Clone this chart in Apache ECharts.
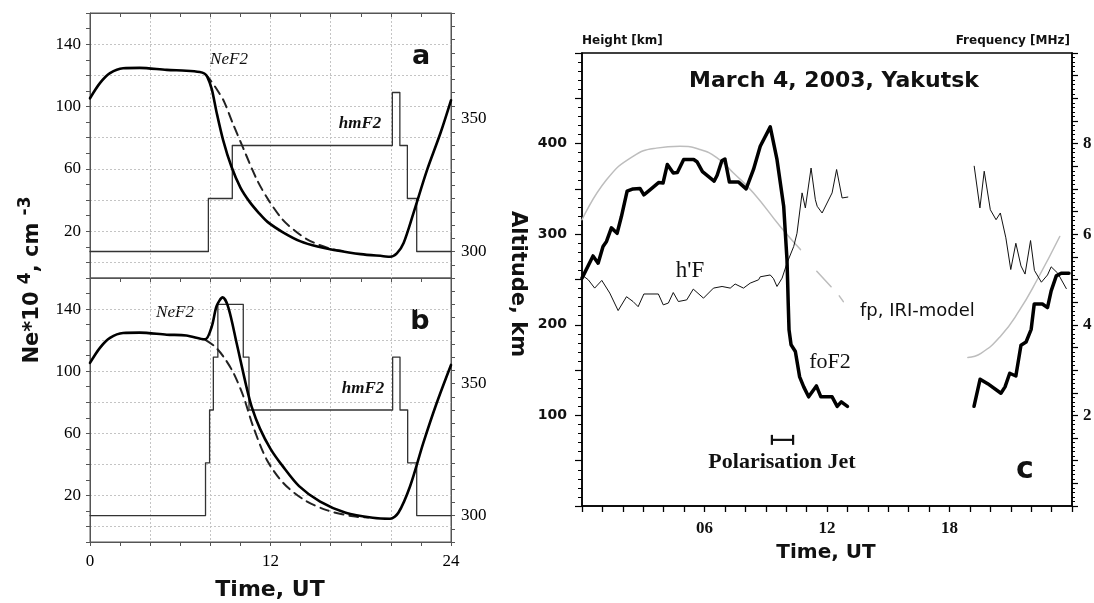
<!DOCTYPE html>
<html><head><meta charset="utf-8">
<script src="https://cdn.jsdelivr.net/npm/echarts@6/dist/echarts.min.js"></script>
<style>html,body{margin:0;padding:0;background:#fff}#chart{width:1094px;height:603px}</style>
</head><body><div id="chart"></div>
<script>
// ---------- Panel a (model, hours UT / Ne*10^4 cm^-3 / altitude km) ----------
const neSolidA = [[0,105.3],[0.66,115],[1.33,121.4],[2.2,124.6],[3.3,124.8],[5.1,123.5],[6.4,123.0],[7.3,122.2],[7.6,121.2],[7.8,119],[8.1,111],[8.4,97],[8.85,78.5],[9.4,61.5],[10.0,48],[10.6,39],[11.2,32],[11.8,26],[12.8,19.5],[14.0,13.5],[15.2,10],[16.2,8],[18.0,5.3],[19.5,4.0],[19.95,3.6],[20.4,5.8],[20.85,12.5],[21.5,31.5],[22.4,59],[23.3,83],[24,104]];
const neDashA = [[7.7,120.5],[8.0,117],[8.5,110],[8.9,103.5],[9.5,89],[10.2,73],[11.1,53],[11.9,39.5],[12.8,27.5],[13.6,20.5],[14.4,15],[15.3,11],[16.2,8.3],[17.0,7.0]];
const hmF2A = [[0,300],[7.87,300],[7.87,320],[9.46,320],[9.46,340],[20.1,340],[20.1,360],[20.6,360],[20.6,340],[21.1,340],[21.1,320],[21.72,320],[21.72,300],[24,300]];
// ---------- Panel b ----------
const neSolidB = [[0,105.3],[0.66,115],[1.33,121.4],[2.2,124.6],[3.3,124.8],[5.1,123.5],[6.4,123.0],[7.65,120.5],[8.09,128.6],[8.42,142],[8.82,147.5],[9.2,141],[9.75,118],[10.4,90],[10.75,77],[11.3,63],[12.0,50],[12.8,39],[13.9,26],[15.3,16],[17.0,8.8],[18.8,5.6],[19.95,5.0],[20.5,8.8],[21.28,25.9],[22.16,53.8],[23.05,79.5],[24,104]];
const neDashB = [[7.7,120],[8.31,115.8],[8.87,109.4],[9.53,99],[10.19,84],[10.86,64],[11.75,43],[12.85,28],[14.18,17.5],[15.73,10.5],[17.5,6.5],[18.5,5.8]];
const hmF2B = [[0,300],[7.68,300],[7.68,320],[7.95,320],[7.95,340],[8.2,340],[8.2,360],[8.5,360],[8.5,380],[10.19,380],[10.19,360],[10.57,360],[10.57,340],[20.12,340],[20.12,360],[20.61,360],[20.61,340],[21.12,340],[21.12,320],[21.72,320],[21.72,300],[24,300]];
// ---------- Panel c (Yakutsk, March 4 2003) ----------
const foF2Day = [[0,5.03],[0.54,5.52],[0.79,5.36],[1.03,5.73],[1.2,5.84],[1.44,6.14],[1.72,6.02],[1.93,6.39],[2.21,6.95],[2.5,7.0],[2.84,7.01],[3.03,6.87],[3.33,6.98],[3.75,7.14],[3.97,7.13],[4.18,7.54],[4.47,7.35],[4.67,7.36],[4.98,7.65],[5.47,7.65],[5.63,7.6],[5.9,7.38],[6.47,7.17],[6.62,7.3],[6.85,7.62],[7.0,7.66],[7.22,7.15],[7.67,7.15],[8.04,7.0],[8.4,7.43],[8.73,7.94],[9.22,8.37],[9.55,7.65],[9.88,6.61],[10.04,5.44],[10.07,4.98],[10.1,4.48],[10.14,3.89],[10.24,3.56],[10.45,3.41],[10.66,2.85],[10.86,2.63],[11.1,2.41],[11.48,2.65],[11.7,2.41],[12.25,2.41],[12.5,2.2],[12.7,2.3],[13.0,2.2]];
const foF2Night = [[19.2,2.2],[19.5,2.8],[19.87,2.7],[20.52,2.49],[20.72,2.63],[20.95,2.93],[21.25,2.87],[21.5,3.55],[21.75,3.62],[22.0,3.9],[22.15,4.46],[22.55,4.46],[22.8,4.38],[22.98,4.75],[23.23,5.08],[23.47,5.14],[23.85,5.14]];
const hFDay = [[0,255],[0.31,249.6],[0.62,240.5],[0.97,249],[1.36,235],[1.77,215.7],[2.18,231],[2.5,225.7],[2.75,220],[3.03,234],[3.74,234],[3.98,222],[4.23,224],[4.47,235.6],[4.72,225.7],[5.13,227.5],[5.45,239.4],[5.95,229.4],[6.44,240.5],[6.86,242.3],[7.26,240.5],[7.5,245],[7.91,240.5],[8.24,246],[8.65,249.7],[8.73,253],[9.22,255],[9.38,251],[9.55,242.3],[9.8,251.5],[10.04,268],[10.37,286.5],[10.53,301],[10.78,345.6],[10.94,329],[11.22,373],[11.43,338],[11.52,330.8],[11.76,323.4],[12.25,345.6],[12.47,371.4],[12.74,340],[13.02,341]];
const hFNight = [[19.21,375],[19.49,329],[19.7,369.5],[20.0,327],[20.28,316],[20.49,323.4],[20.76,296],[21.0,261],[21.25,290],[21.5,265],[21.7,256],[21.97,293],[22.16,260],[22.5,247],[22.8,255],[22.98,264],[23.3,257],[23.72,240]];
const iriDay = [[0,6.32],[1.2,7.2],[2.5,7.72],[3.64,7.9],[4.8,7.94],[5.78,7.87],[6.6,7.69],[7.42,7.35],[8.4,6.91],[9.71,6.17],[10.7,5.66]];
const iriFaint1 = [[11.5,5.18],[12.2,4.84]];
const iriFaint2 = [[12.6,4.64],[12.8,4.51]];
const iriNight = [[18.9,3.28],[19.54,3.37],[20.52,3.76],[21.4,4.3],[22.3,5.0],[23.4,5.95]];
const jetSpan = [9.3, 10.34];
const jetHeight = 73;
// tick labels
const neTickLabels = [20, 60, 100, 140];
const altTickLabels = [300, 350];
const timeTickLabelsAB = [0, 12, 24];
const timeTickLabelsC = {6: '06', 12: '12', 18: '18'};
const heightTickLabels = [100, 200, 300, 400];
const freqTickLabels = [2, 4, 6, 8];

const sans = '"DejaVu Sans", Verdana, sans-serif';
const serif = '"Liberation Serif", "Times New Roman", serif';
const axC = '#555';

const chart = echarts.init(document.getElementById('chart'), null, {renderer: 'canvas'});

function abX(gridIndex, pos, labels, inside, split) {
  return {
    type: 'value', gridIndex, position: pos, min: 0, max: 24, interval: 4,
    axisLine: {show: true, onZero: false, lineStyle: {color: axC, width: 1}},
    axisTick: {show: true, inside, length: 4, lineStyle: {color: axC}},
    minorTick: {show: true, splitNumber: 2, length: 4, lineStyle: {color: axC}},
    axisLabel: {show: labels, margin: 11, color: '#000', fontFamily: serif, fontSize: 17,
      formatter: v => timeTickLabelsAB.includes(v) ? String(v) : ''},
    splitLine: {show: split, lineStyle: {color: '#c4c4c4', type: [2, 2], width: 1}}
  };
}
function abYNe(gridIndex) {
  return {
    type: 'value', gridIndex, position: 'left', min: -10, max: 160, interval: 10,
    axisLine: {show: true, onZero: false, lineStyle: {color: axC}},
    axisTick: {show: true, length: 4, lineStyle: {color: axC}},
    axisLabel: {margin: 9, color: '#000', fontFamily: serif, fontSize: 17,
      formatter: v => neTickLabels.includes(v) ? String(v) : ''},
    splitLine: {show: true, lineStyle: {color: ['rgba(0,0,0,0)', '#c4c4c4'], type: [2, 2], width: 1}}
  };
}
function abYAlt(gridIndex) {
  return {
    type: 'value', gridIndex, position: 'right', min: 290, max: 390, interval: 5,
    axisLine: {show: true, onZero: false, lineStyle: {color: axC}},
    axisTick: {show: true, length: 4, lineStyle: {color: axC}},
    axisLabel: {margin: 10, color: '#000', fontFamily: serif, fontSize: 17,
      formatter: v => altTickLabels.includes(v) ? String(v) : ''},
    splitLine: {show: false}
  };
}
function line(xi, yi, data, width, color, dash, smooth) {
  return {type: 'line', xAxisIndex: xi, yAxisIndex: yi, data, showSymbol: false, symbol: 'none',
    smooth: smooth, silent: true, animation: false,
    lineStyle: {color, width, type: dash || 'solid', cap: 'round', join: 'round'}};
}
function txt(x, y, text, font, align, extra) {
  return Object.assign({type: 'text', x, y, silent: true,
    style: {text, font, fill: '#111', align: align || 'center', textAlign: align || 'center',
      verticalAlign: 'middle', textVerticalAlign: 'middle'}}, extra || {});
}

const option = {
  backgroundColor: '#fff',
  animation: false,
  grid: [
    {left: 90, top: 13, width: 361, height: 265, show: true, borderColor: axC, borderWidth: 1, containLabel: false, outerBoundsMode: 'none'},
    {left: 90, top: 278, width: 361, height: 264, show: true, borderColor: axC, borderWidth: 1, containLabel: false, outerBoundsMode: 'none'},
    {left: 582, top: 53, width: 490, height: 453, show: true, borderColor: '#000', borderWidth: 1.5, containLabel: false, outerBoundsMode: 'none'}
  ],
  xAxis: [
    abX(0, 'bottom', false, false, true),
    abX(0, 'top', false, true, false),
    abX(1, 'bottom', true, false, true),
    {
      type: 'value', gridIndex: 2, position: 'bottom', min: 0, max: 24, interval: 1,
      axisLine: {show: true, onZero: false, lineStyle: {color: '#000', width: 1.5}},
      axisTick: {show: true, length: 6, lineStyle: {color: '#000', width: 1.3}},
      axisLabel: {margin: 14, color: '#111', fontFamily: serif, fontWeight: 'bold', fontSize: 17,
        formatter: v => timeTickLabelsC[v] || ''},
      splitLine: {show: false}
    }
  ],
  yAxis: [
    abYNe(0), abYAlt(0), abYNe(1), abYAlt(1),
    {
      type: 'value', gridIndex: 2, position: 'left', min: 0, max: 500, interval: 50,
      axisLine: {show: true, onZero: false, lineStyle: {color: '#000', width: 1.5}},
      axisTick: {show: true, length: 7, lineStyle: {color: '#000', width: 1.2}},
      minorTick: {show: true, splitNumber: 5, length: 4, lineStyle: {color: '#000'}},
      axisLabel: {margin: 15, color: '#111', fontFamily: sans, fontWeight: 'bold', fontSize: 14,
        formatter: v => heightTickLabels.includes(v) ? String(v) : ''},
      splitLine: {show: false}
    },
    {
      type: 'value', gridIndex: 2, position: 'right', min: 0, max: 10, interval: 0.5,
      axisLine: {show: true, onZero: false, lineStyle: {color: '#000', width: 1.5}},
      axisTick: {show: true, length: 6, lineStyle: {color: '#000', width: 1.2}},
      minorTick: {show: true, splitNumber: 5, length: 3, lineStyle: {color: '#000'}},
      axisLabel: {margin: 11, color: '#111', fontFamily: serif, fontWeight: 'bold', fontSize: 17,
        formatter: v => freqTickLabels.includes(v) ? String(v) : ''},
      splitLine: {show: false}
    }
  ],
  series: [
    // panel a
    line(0, 1, hmF2A, 1.3, '#333', 'solid', false),
    line(0, 0, neDashA, 2, '#222', [9, 6], 0.3),
    line(0, 0, neSolidA, 2.6, '#000', 'solid', 0.3),
    // panel b
    line(2, 3, hmF2B, 1.3, '#333', 'solid', false),
    line(2, 2, neDashB, 2, '#222', [9, 6], 0.3),
    line(2, 2, neSolidB, 2.6, '#000', 'solid', 0.3),
    // panel c
    line(3, 5, iriDay, 1.5, '#bdbdbd', 'solid', true),
    line(3, 5, iriFaint1, 1.5, '#bdbdbd', 'solid', false),
    line(3, 5, iriFaint2, 1.5, '#bdbdbd', 'solid', false),
    line(3, 5, iriNight, 1.5, '#bdbdbd', 'solid', true),
    line(3, 4, hFDay, 1, '#111', 'solid', false),
    line(3, 4, hFNight, 1, '#111', 'solid', false),
    line(3, 5, foF2Day, 3.5, '#000', 'solid', false),
    line(3, 5, foF2Night, 3.5, '#000', 'solid', false),
    {
      type: 'custom', xAxisIndex: 3, yAxisIndex: 4, silent: true, animation: false,
      data: [[jetSpan[0], jetSpan[1], jetHeight]],
      encode: {x: [0, 1], y: 2},
      renderItem: (params, api) => {
        const p1 = api.coord([api.value(0), api.value(2)]);
        const p2 = api.coord([api.value(1), api.value(2)]);
        const h = 5, st = {stroke: '#111', lineWidth: 2.2};
        return {type: 'group', children: [
          {type: 'line', shape: {x1: p1[0], y1: p1[1], x2: p2[0], y2: p2[1]}, style: st},
          {type: 'line', shape: {x1: p1[0], y1: p1[1] - h, x2: p1[0], y2: p1[1] + h}, style: st},
          {type: 'line', shape: {x1: p2[0], y1: p2[1] - h, x2: p2[0], y2: p2[1] + h}, style: st}
        ]};
      }
    }
  ],
  graphic: [
    txt(229, 60, 'NeF2', `italic 17px ${serif}`),
    txt(421, 57, 'a', `bold 27px ${sans}`),
    txt(360, 124, 'hmF2', `italic bold 17px ${serif}`),
    txt(175, 313, 'NeF2', `italic 17px ${serif}`),
    txt(420, 322, 'b', `bold 27px ${sans}`),
    txt(363, 389, 'hmF2', `italic bold 17px ${serif}`),
    txt(270, 590, 'Time, UT', `bold 22px ${sans}`),
    {type: 'text', x: 30, y: 280, rotation: Math.PI / 2, silent: true,
      style: {text: '{m|Ne*10 }{s|4}{m|, cm }{s|-3}', align: 'center', textAlign: 'center',
        verticalAlign: 'middle', textVerticalAlign: 'middle', fill: '#111',
        rich: {m: {font: `bold 21px ${sans}`, fill: '#111', lineHeight: 26, verticalAlign: 'bottom'},
               s: {font: `bold 17px ${sans}`, fill: '#111', lineHeight: 26, verticalAlign: 'top'}}}},
    {type: 'text', x: 517, y: 284, rotation: -Math.PI / 2, silent: true,
      style: {text: 'Altitude, km', font: `bold 21px ${sans}`, fill: '#111', align: 'center', textAlign: 'center',
        verticalAlign: 'middle', textVerticalAlign: 'middle'}},
    txt(582, 41, 'Height [km]', `bold 12px ${sans}`, 'left'),
    txt(1070, 41, 'Frequency [MHz]', `bold 12px ${sans}`, 'right'),
    txt(834, 81, 'March 4, 2003, Yakutsk', `bold 22px ${sans}`),
    txt(690, 271, 'h\'F', `23px ${serif}`),
    txt(830, 362, 'foF2', `22px ${serif}`),
    txt(860, 311, 'fp, IRI-model', `18px ${sans}`, 'left'),
    txt(782, 462, 'Polarisation Jet', `bold 22px ${serif}`),
    txt(1025, 470, 'c', `bold 30px ${sans}`),
    txt(826, 553, 'Time, UT', `bold 20px ${sans}`)
  ]
};
chart.setOption(option);
</script></body></html>
